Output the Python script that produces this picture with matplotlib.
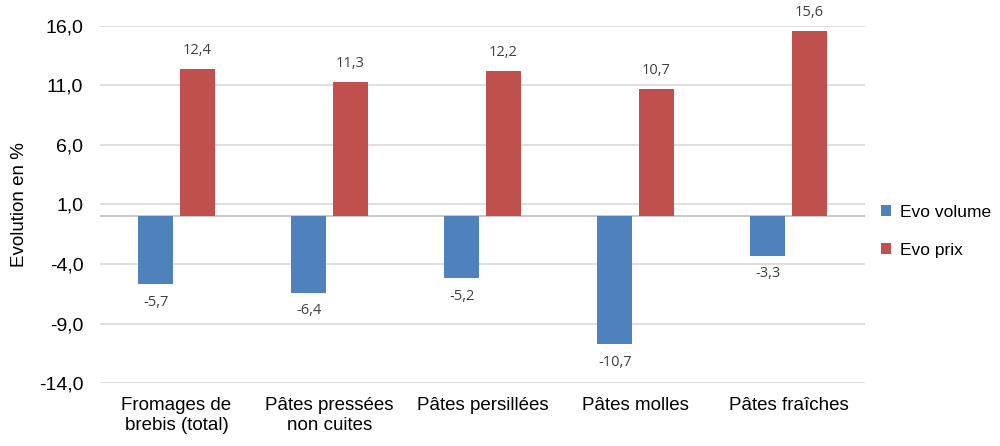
import numpy as np
import matplotlib.pyplot as plt

categories = ['Fromages de\nbrebis (total)', 'Pâtes pressées\nnon cuites', 'Pâtes persillées',
              'Pâtes molles', 'Pâtes fraîches']
evo_volume = [-5.7, -6.4, -5.2, -10.7, -3.3]
evo_prix = [12.4, 11.3, 12.2, 10.7, 15.6]
yticks = [-14, -9, -4, 1, 6, 11, 16]

plt.rcParams['font.family'] = ['Liberation Sans', 'DejaVu Sans']

fig = plt.figure(figsize=(10, 4.46), dpi=100)
ax = fig.add_axes([0.1, 0.141, 0.765, 0.801])

x = np.arange(len(categories))
w = 0.23
off = 0.135
b1 = ax.bar(x - off, evo_volume, w, color='#4F81BD', label='Evo volume', zorder=3)
b2 = ax.bar(x + off, evo_prix, w, color='#C0504D', label='Evo prix', zorder=3)

for rect, v in zip(b1, evo_volume):
    ax.text(rect.get_x() + rect.get_width() / 2, v - 0.9, f'{v:.1f}'.replace('.', ','),
            ha='center', va='top', fontsize=10.5, color='#404040', family='Open Sans')
for rect, v in zip(b2, evo_prix):
    ax.text(rect.get_x() + rect.get_width() / 2, v + 0.9, f'{v:.1f}'.replace('.', ','),
            ha='center', va='bottom', fontsize=10.5, color='#404040', family='Open Sans')

ax.set_xlim(-0.5, len(categories) - 0.5)
ax.set_ylim(-14, 16)
ax.set_yticks(yticks)
ax.set_yticklabels([f'{t:.1f}'.replace('.', ',') for t in yticks], fontsize=14)
ax.set_xticks(x)
ax.set_xticklabels(categories, fontsize=13.5)
ax.tick_params(length=0, pad=10)
ax.tick_params(axis='y', pad=12)
ax.grid(axis='y', color='#D9D9D9', linewidth=1.2, zorder=0)
ax.axhline(0, color='#BFBFBF', linewidth=1.2, zorder=2)
for s in ax.spines.values():
    s.set_visible(False)
ax.set_ylabel('Evolution en %', fontsize=13.5, labelpad=8)

ax.legend(loc='center left', bbox_to_anchor=(1.005, 0.425), frameon=False, fontsize=12.5,
          handlelength=0.6, handleheight=0.6, handletextpad=0.5, labelspacing=1.3,
          borderaxespad=0.3)

fig.savefig('out.png', dpi=100)
